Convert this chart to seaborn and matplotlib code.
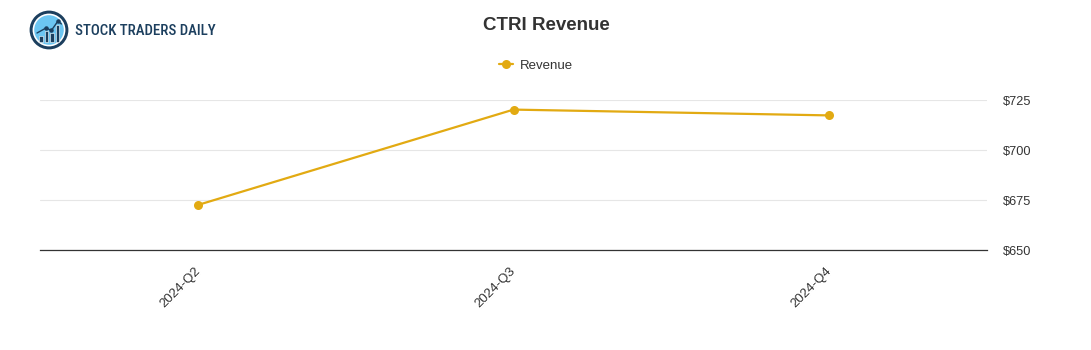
import matplotlib
matplotlib.use("Agg")
import matplotlib.pyplot as plt
import matplotlib.patches as mpatches
import matplotlib.transforms as mtransforms
from matplotlib import font_manager
from matplotlib.ticker import FuncFormatter
import seaborn as sns
import pandas as pd
import numpy as np

quarters = ["2024-Q2", "2024-Q3", "2024-Q4"]
revenue = [672.5, 720.2, 717.3]
y_ticks = [650, 675, 700, 725]

LINE_COLOR = "#E2AA12"
TEXT_COLOR = "#333333"
BRAND = "#1c3f5e"

sns.set_theme(style="white")
plt.rcParams["font.family"] = ["Liberation Sans", "DejaVu Sans"]

installed = {f.name for f in font_manager.fontManager.ttflist}
brand_family = [n for n in ["Liberation Sans Narrow", "DejaVu Sans Condensed",
                            "Roboto Condensed", "Liberation Sans"] if n in installed]

df = pd.DataFrame({"quarter": quarters, "Revenue": revenue})
df["pos"] = np.arange(len(df))

W, H = 1091, 350
fig = plt.figure(figsize=(W / 100, H / 100), dpi=100)
ax = fig.add_axes([40 / W, 1 - 250 / H, (987 - 40) / W, 150 / H])

sns.lineplot(data=df, x="pos", y="Revenue", ax=ax, color=LINE_COLOR,
             linewidth=1.6, marker="o", markersize=6.5, markeredgewidth=0,
             label="Revenue", legend=False, clip_on=False)

ax.set_xlim(-0.5, len(quarters) - 0.5)
ax.set_ylim(y_ticks[0], y_ticks[-1])
ax.set_yticks(y_ticks)
ax.yaxis.tick_right()
ax.yaxis.set_major_formatter(FuncFormatter(lambda v, p: f"${v:.0f}"))
ax.set_xticks(df["pos"])
ax.set_xticklabels(quarters, rotation=45, ha="right", rotation_mode="anchor")
ax.tick_params(axis="x", length=0, pad=11, labelsize=9.5, labelcolor=TEXT_COLOR)
ax.tick_params(axis="y", length=0, pad=11.5, labelsize=9.2, labelcolor=TEXT_COLOR)
shift = mtransforms.ScaledTranslation(-4 / 100, 0, fig.dpi_scale_trans)
for lbl in ax.get_xticklabels():
    lbl.set_transform(lbl.get_transform() + shift)
ax.grid(axis="y", color="#e6e6e6", linewidth=0.8)
ax.grid(axis="x", visible=False)
for side in ["top", "left", "right"]:
    ax.spines[side].set_visible(False)
ax.spines["bottom"].set_color("#333333")
ax.spines["bottom"].set_linewidth(0.9)
ax.set_xlabel("")
ax.set_ylabel("")

# Title and legend
fig.text(546 / W, 1 - 25.5 / H, "CTRI Revenue", ha="center", va="center",
         fontsize=13.5, fontweight="bold", color=TEXT_COLOR)
handle = plt.Line2D([], [], color=LINE_COLOR, linewidth=1.6, marker="o",
                    markersize=6.5, markeredgewidth=0)
fig.legend([handle], ["Revenue"], loc="center", bbox_to_anchor=(536 / W, 1 - 66 / H),
           frameon=False, fontsize=9.5, handlelength=1.1, handletextpad=0.5,
           labelcolor=TEXT_COLOR)

# Brand mark
lax = fig.add_axes([29 / W, 1 - 50 / H, 40 / W, 40 / H])
lax.set_xlim(-1, 1)
lax.set_ylim(-1, 1)
lax.set_aspect("equal")
lax.axis("off")
lax.add_patch(mpatches.Circle((0, 0), 0.97, facecolor=BRAND, edgecolor="none"))
lax.add_patch(mpatches.Circle((0, 0), 0.82, facecolor="white", edgecolor="none"))
lax.add_patch(mpatches.Circle((0, 0), 0.74, facecolor="#6cc6f2", edgecolor="none"))
bar_x = [-0.5, -0.22, 0.06, 0.34]
bar_h = [0.3, 0.55, 0.45, 0.85]
for bx, bh in zip(bar_x, bar_h):
    lax.add_patch(mpatches.Rectangle((bx, -0.62), 0.18, bh, facecolor=BRAND,
                                     edgecolor="white", linewidth=0.4))
lax.plot([-0.6, -0.15, 0.12, 0.45, 0.62], [-0.15, 0.1, -0.02, 0.45, 0.3],
         color=BRAND, linewidth=1.0)
lax.scatter([-0.15, 0.12, 0.45], [0.1, -0.02, 0.45], s=5, color=BRAND, zorder=3)

brand = fig.text(75 / W, 1 - 31 / H, "STOCK TRADERS DAILY", ha="left", va="center",
                 fontsize=12, color=BRAND, fontweight="medium",
                 family=brand_family + ["DejaVu Sans"])
# fit the wordmark into its slot
fig.canvas.draw()
bb = brand.get_window_extent()
brand.set_fontsize(12 * min(1.0, 141 / bb.width))

fig.savefig("out.png", dpi=100)
